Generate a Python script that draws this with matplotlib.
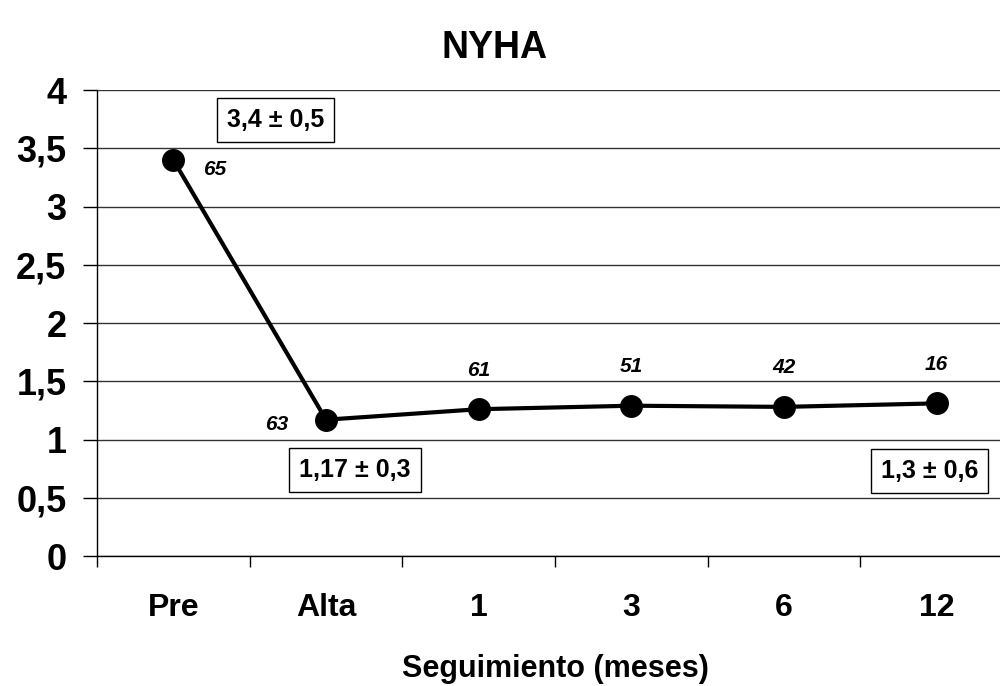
import numpy as np
import matplotlib
matplotlib.use('Agg')
import matplotlib.pyplot as plt
from matplotlib.ticker import FixedLocator

plt.rcParams['font.family'] = ['Liberation Sans', 'DejaVu Sans']

# datos
categorias = ['Pre', 'Alta', '1', '3', '6', '12']
nyha = [3.4, 1.17, 1.26, 1.29, 1.28, 1.31]
n_pacientes = ['65', '63', '61', '51', '42', '16']
resumen_idx = [0, 1, 5]
resumen_txt = ['3,4 ± 0,5', '1,17 ± 0,3', '1,3 ± 0,6']
y_ticks = [0, 0.5, 1, 1.5, 2, 2.5, 3, 3.5, 4]

# offsets de etiquetas (pixels)
n_offsets = [(41, -10), (-49, -5), (0, 39), (0, 39), (0, 39), (0, 39)]
box_offsets = [(102, 40), (29, -50), (-7, -68)]

fig = plt.figure(figsize=(10, 6.86), dpi=100)
ax = fig.add_axes([0.097, 1 - 556 / 686, 0.916, 466 / 686])

x = np.arange(len(categorias))
ax.plot(x, nyha, color='black', linewidth=3, marker='o', markersize=15.5, zorder=3)

for i, lab in enumerate(n_pacientes):
    ax.annotate(lab, (x[i], nyha[i]), xytext=n_offsets[i], textcoords='offset pixels',
                ha='center', va='center', fontsize=15, fontweight='bold', fontstyle='italic')

for k, i in enumerate(resumen_idx):
    ax.annotate(resumen_txt[k], (x[i], nyha[i]), xytext=box_offsets[k], textcoords='offset pixels',
                ha='center', va='center', fontsize=18, fontweight='bold',
                bbox=dict(boxstyle='square,pad=0.4', facecolor='white', edgecolor='black', linewidth=1))

ax.set_xlim(-0.5, len(categorias) - 0.5)
ax.set_ylim(0, 4)

# ticks en los limites de categoria, etiquetas en el centro
ax.xaxis.set_major_locator(FixedLocator(np.arange(-0.5, len(categorias), 1.0)))
ax.xaxis.set_major_formatter(plt.NullFormatter())
ax.xaxis.set_minor_locator(FixedLocator(x))
ax.set_xticklabels(categorias, minor=True, fontsize=23, fontweight='bold')
ax.tick_params(axis='x', which='major', length=8, width=1, direction='out')
ax.tick_params(axis='x', which='minor', length=0, pad=27)

ax.set_yticks(y_ticks)
ax.set_yticklabels([f'{v:g}'.replace('.', ',') for v in y_ticks], fontsize=26, fontweight='bold')
ax.tick_params(axis='y', length=10, width=1, direction='out', pad=12)

ax.grid(axis='y', color='#333333', linewidth=1)
ax.set_axisbelow(True)
for s in ['top', 'right']:
    ax.spines[s].set_visible(False)
ax.spines['left'].set_linewidth(1)
ax.spines['bottom'].set_linewidth(1)

ax.set_xlabel('Seguimiento (meses)', fontsize=22, fontweight='bold', labelpad=22)
fig.text(0.495, 0.93, 'NYHA', ha='center', va='center', fontsize=27, fontweight='bold')

plt.savefig('out.png', dpi=100)
